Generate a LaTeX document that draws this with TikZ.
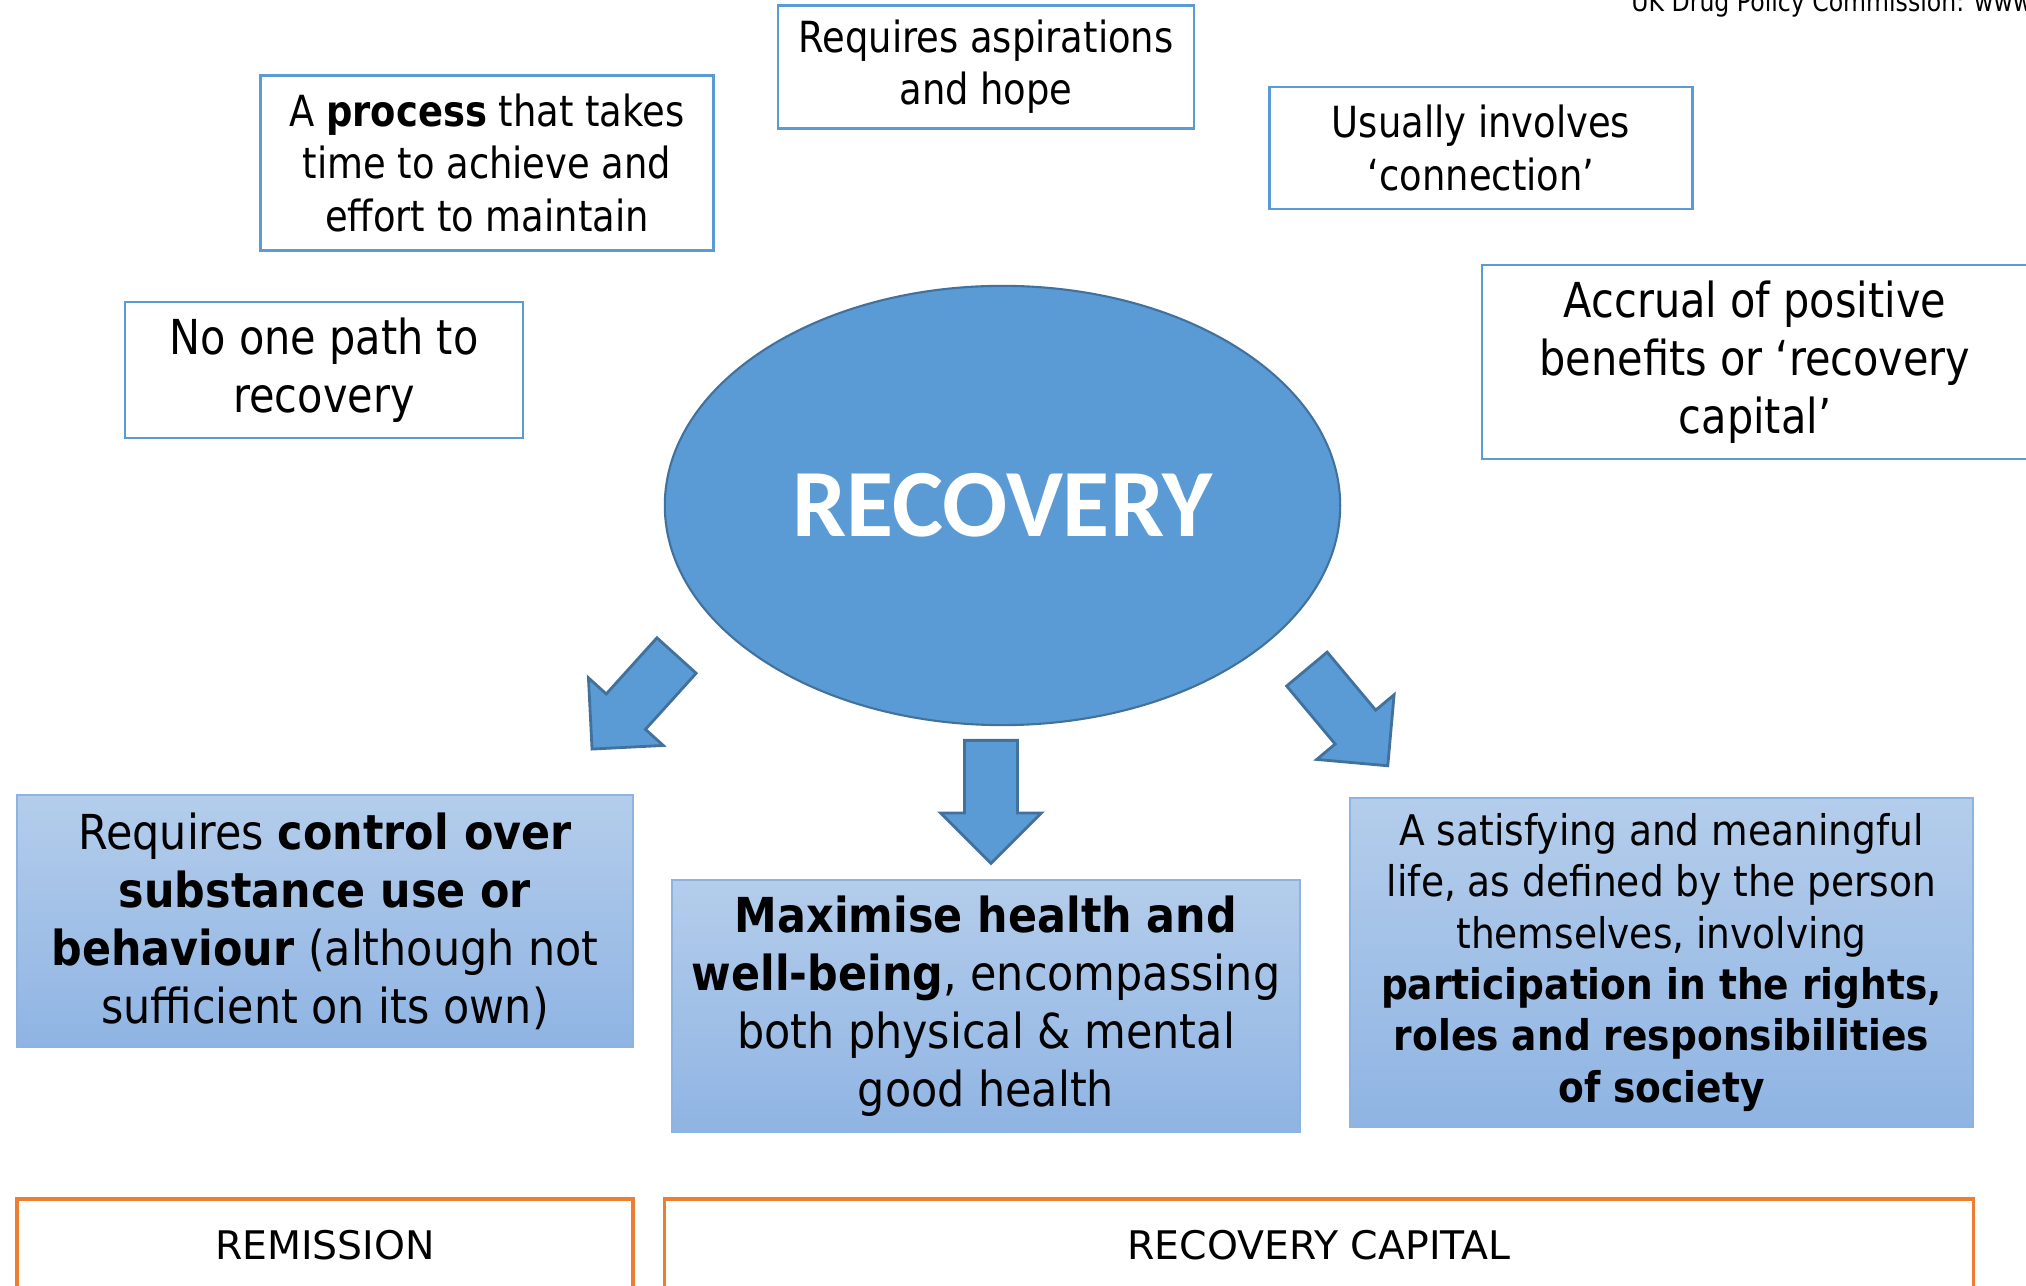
\documentclass[tikz,border=0pt]{standalone}
\usepackage{fontspec}
\setmainfont{DejaVu Sans}[FakeStretch=0.86]
\newfontfamily\condfont{DejaVu Sans}[FakeStretch=0.89]
\newfontfamily\bandfont{DejaVu Sans}
\newfontfamily\calfont{Carlito}
\usetikzlibrary{shapes.geometric,shapes.arrows,positioning}

\definecolor{ovalblue}{HTML}{5B9BD5}
\definecolor{ovaledge}{HTML}{41719C}
\definecolor{gradtop}{HTML}{B4CDEB}
\definecolor{gradbot}{HTML}{8FB4E3}
\definecolor{gradedge}{HTML}{8DB3E2}
\definecolor{bandedge}{HTML}{ED7D31}

\tikzset{
  note/.style={draw=ovalblue, line width=0.7pt, align=center, inner sep=0pt, font=\fontsize{12.2}{14.8}\selectfont},
  bignote/.style={note, font=\fontsize{13.7}{16.5}\selectfont},
  shaded/.style={draw=gradedge, line width=0.7pt, top color=gradtop, bottom color=gradbot, align=center, inner sep=0pt},
  band/.style={draw=bandedge, line width=1pt, align=center, inner sep=0pt, font=\bandfont\fontsize{11.2}{13}\selectfont},
  blockarrow/.style={single arrow, draw=ovaledge, fill=ovalblue, line width=0.8pt, inner xsep=0pt, inner ysep=0.25cm,
    single arrow head extend=0.24cm, minimum width=0.98cm, anchor=tail}
}

\begin{document}
\begin{tikzpicture}[x=0.01cm,y=-0.01cm]
\useasboundingbox (0,0) rectangle (2026,1286);

\node[anchor=base west, font=\fontsize{7.8}{9}\selectfont](source) at (1619,12){UK Drug Policy Commission: www.};

% statements around the oval
\node[note, minimum width=4.53cm, minimum height=1.75cm](process) at (487,163){A \textbf{process} that takes\\ time to achieve and\\ effort to maintain};
\node[note, minimum width=4.16cm, minimum height=1.23cm](hope) at (986,67){Requires aspirations\\ and hope};
\node[note, minimum width=4.23cm, minimum height=1.22cm](connection) at (1481,148){Usually involves\\ ‘connection’};
\node[bignote, minimum width=5.46cm, minimum height=1.94cm](accrual) at (1755,362){Accrual of positive\\ benefits or ‘recovery\\ capital’};
\node[bignote, minimum width=3.98cm, minimum height=1.36cm](nopath) at (324,370){No one path to\\ recovery};

\node[ellipse, draw=ovaledge, fill=ovalblue, line width=0.6pt, minimum width=6.75cm, minimum height=4.39cm, text=white,
  font=\calfont\bfseries\fontsize{27.4}{30}\selectfont](recovery) at (1002.5,505.5){RECOVERY};

% block arrows
\node[blockarrow, rotate=-132.1, minimum height=1.26cm](arrowl) at (677.5,654.5){};
\node[blockarrow, rotate=-90, minimum height=1.23cm](arrowm) at (991,739){};
\node[blockarrow, rotate=-50.1, minimum height=1.26cm](arrowr) at (1306,668){};

% three outcomes
\node[shaded, minimum width=6.16cm, minimum height=2.52cm, font=\condfont\fontsize{13.7}{16.5}\selectfont](control) at (325,921)
  {Requires \textbf{control over}\\ \textbf{substance use or}\\ \textbf{behaviour} (although not\\ sufficient on its own)};
\node[shaded, minimum width=6.28cm, minimum height=2.52cm, font=\condfont\fontsize{13.7}{16.5}\selectfont](health) at (986,1006)
  {\textbf{Maximise health and}\\ \textbf{well-being}, encompassing\\ both physical \& mental\\ good health};
\node[shaded, minimum width=6.23cm, minimum height=3.29cm, font=\condfont\fontsize{12}{14.6}\selectfont](meaningful) at (1661.5,962.5)
  {A satisfying and meaningful\\ life, as defined by the person\\ themselves, involving\\ \textbf{participation in the rights,}\\ \textbf{roles and responsibilities}\\ \textbf{of society}};

\node[band, minimum width=6.16cm, minimum height=0.92cm](remission) at (325,1245){REMISSION};
\node[band, minimum width=13.08cm, minimum height=0.92cm](capital) at (1319,1245){RECOVERY CAPITAL};
\end{tikzpicture}
\end{document}
